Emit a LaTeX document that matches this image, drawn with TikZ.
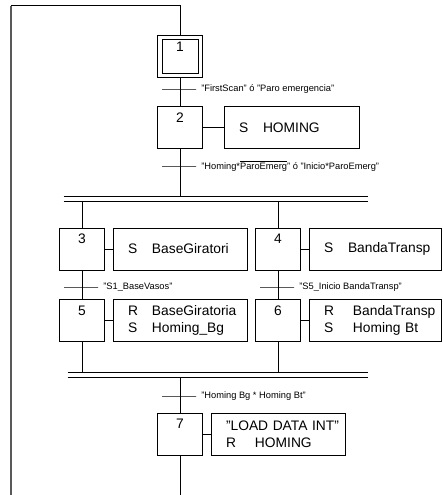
\documentclass[tikz,border=0pt]{standalone}
\usepackage{fontspec}
\setmainfont{Liberation Sans}
\usetikzlibrary{positioning}
\newcommand{\accion}[3][24pt]{\makebox[#1][l]{#2}#3}

\begin{document}
\begin{tikzpicture}[x=1pt, y=-1pt, line width=0.8pt,
  every node/.style={font=\fontsize{13.8}{16.8}\selectfont},
  etapa/.style={draw, minimum width=45pt, text height=10pt, text depth=20.8pt, inner ysep=5.6pt, inner xsep=0pt},
  acc/.style={draw, minimum height=42pt, inner xsep=15pt, inner ysep=0pt, align=left, text width=#1},
  acc/.default=104pt,
  trans/.style={draw, minimum width=34pt, minimum height=0pt, inner sep=0pt},
  cond/.style={font=\fontsize{9.3}{10}\selectfont, inner sep=0pt, right=4.5pt of #1},
  barra/.style={minimum height=4pt, inner sep=0pt, minimum width=#1}]
  \useasboundingbox (0,0) rectangle (442,495);

  % etapa inicial y primera transicion
  \node[etapa, inner ysep=6.5pt, text depth=19pt] (s1) at (180,56) {1};
  \node[draw, minimum width=36pt, minimum height=34pt, inner sep=0pt] (s1in) at (s1.center) {};
  \node[trans] (t1) at (179,89) {};
  \node[cond=t1] (c1) {"FirstScan" ó "Paro emergencia"};
  \node[etapa] (s2) at (180,127.5) {2};
  \node[acc=105pt] (a2) at (291.5,127.5) {\accion{S}{HOMING}};
  \node[trans] (t2) at (179,166) {};
  \node[cond=t2] (c2) {"Homing*$\overline{\mbox{ParoEmerg}}$" ó "Inicio*ParoEmerg"};

  % divergencia en Y
  \node[barra=304pt] (b1) at (216,199) {};
  \node[etapa] (s3) at (82,249) {3};
  \node[acc] (a3) at (180,249) {\accion{S}{BaseGiratori}};
  \node[etapa] (s4) at (278,249) {4};
  \node[acc=102pt] (a4) at (375,249) {\accion{S}{BandaTransp}};
  \node[trans] (t3) at (81,287) {};
  \node[cond=t3] (c3) {"S1\_BaseVasos"};
  \node[trans] (t4) at (277,287) {};
  \node[cond=t4] (c4) {"S5\_Inicio BandaTransp"};
  \node[etapa] (s5) at (82,320.5) {5};
  \node[acc] (a5) at (180,320.5) {\accion{R}{BaseGiratoria}\\\accion{S}{Homing\_Bg}};
  \node[etapa] (s6) at (278,320.5) {6};
  \node[acc=102pt] (a6) at (375,320.5) {\accion[29pt]{R}{BandaTransp}\\\accion[29pt]{S}{Homing Bt}};

  % convergencia en Y
  \node[barra=300pt] (b2) at (218,375) {};
  \node[trans] (t5) at (179,396) {};
  \node[cond=t5] (c5) {"Homing Bg * Homing Bt"};
  \node[etapa] (s7) at (180,434) {7};
  \node[acc] (a7) at (278,434) {\mbox{"LOAD DATA INT"}\\\accion[29pt]{R}{HOMING}};

  \coordinate (fin) at (180,495);
  \coordinate (izq) at (11,495);
  \coordinate (arr) at (11,5.7);

  \draw (s1.south) -- (s2.north);
  \draw (s2) -- (a2);
  \draw (s2.south) -- (s2 |- b1.north);
  \draw (b1.north west) -- (b1.north east) (b1.south west) -- (b1.south east);
  \draw (s3 |- b1.south) -- (s3.north);
  \draw (s4 |- b1.south) -- (s4.north);
  \draw (s3) -- (a3);
  \draw (s4) -- (a4);
  \draw (s3) -- (s5);
  \draw (s4) -- (s6);
  \draw (s5) -- (a5);
  \draw (s6) -- (a6);
  \draw (s5.south) -- (s5 |- b2.north);
  \draw (s6.south) -- (s6 |- b2.north);
  \draw (b2.north west) -- (b2.north east) (b2.south west) -- (b2.south east);
  \draw (s7 |- b2.south) -- (s7.north);
  \draw (s7) -- (a7);
  \draw (s7.south) -- (fin);
  % retorno a la etapa inicial
  \draw[line width=1.2pt, black!65] (izq) -- (arr);
  \draw (arr) -- (arr -| s1.north) -- (s1.north);
\end{tikzpicture}
\end{document}
